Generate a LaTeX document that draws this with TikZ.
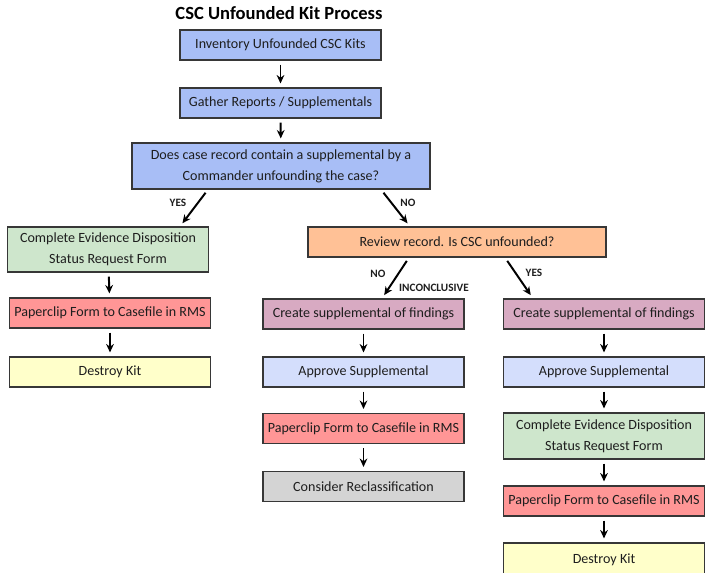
\documentclass[tikz,border=0pt]{standalone}
\usepackage{fontspec}
\setmainfont{Carlito}
\usepackage{tikz}
\usetikzlibrary{calc,arrows.meta}
\definecolor{topblue}{RGB}{168,190,246}
\definecolor{paleblue}{RGB}{212,222,252}
\definecolor{reviewor}{RGB}{255,193,150}
\definecolor{formgreen}{RGB}{206,230,204}
\definecolor{cliprose}{RGB}{255,150,150}
\definecolor{killyellow}{RGB}{255,255,202}
\definecolor{suppmauve}{RGB}{216,170,194}
\definecolor{reclgray}{RGB}{212,212,212}
\definecolor{boxline}{RGB}{55,55,55}
\definecolor{textgray}{RGB}{30,30,30}
\tikzset{
    box/.style={draw=boxline, line width=0.8pt, text=textgray,
            font=\fontsize{10}{15}\selectfont, align=center,
            inner sep=0pt, minimum height=0.75cm},
    narrowbox/.style={box, minimum width=5.025cm},
    widebox/.style={box, minimum width=7.45cm},
    tallbox/.style={minimum height=1.125cm},
    flow/.style={-{Stealth[length=6pt,width=5.5pt]}, line width=1.4pt,
            shorten >=0.1cm, shorten <=0.1cm},
    answer/.style={font=\bfseries\fontsize{8}{9}\selectfont, text=textgray, inner sep=0pt},
}

\begin{document}
\begin{tikzpicture}[x=0.025cm, y=-0.025cm]
        \useasboundingbox (0, 0) rectangle (705, 573);
        \clip (0, 0) rectangle (705, 573);
        %title
        \node[font=\bfseries\fontsize{13.2}{15}\selectfont, text=black] (title) at (279, 13) {CSC Unfounded Kit Process};
        %top boxes
        \node[narrowbox, fill=topblue] (inventory) at (280.5, 45) {Inventory Unfounded CSC Kits};
        \node[narrowbox, fill=topblue] (gather) at (280.5, 103) {Gather Reports / Supplementals};
        \node[widebox, fill=topblue, minimum height=1.15cm] (doescase) at (281, 166) {Does case record contain a supplemental by a\\Commander unfounding the case?};
        %left column
        \node[narrowbox, tallbox, fill=formgreen] (formL) at (108, 249.5) {Complete Evidence Disposition\\Status Request Form};
        \node[narrowbox, fill=cliprose] (clipL) at (110, 313) {Paperclip Form to Casefile in RMS};
        \node[narrowbox, fill=killyellow] (destroyL) at (110, 372) {Destroy Kit};
        %review box
        \node[widebox, fill=reviewor] (review) at (457, 242) {Review record. Is CSC unfounded?};
        %middle column
        \node[narrowbox, fill=suppmauve] (suppM) at (363.5, 314) {Create supplemental of findings};
        \node[narrowbox, fill=paleblue] (approveM) at (363.5, 372) {Approve Supplemental};
        \node[narrowbox, fill=cliprose] (clipM) at (363.5, 428.5) {Paperclip Form to Casefile in RMS};
        \node[narrowbox, fill=reclgray] (reclass) at (363.5, 486.5) {Consider Reclassification};
        %right column
        \node[narrowbox, fill=suppmauve] (suppR) at (604, 314) {Create supplemental of findings};
        \node[narrowbox, fill=paleblue] (approveR) at (604, 372) {Approve Supplemental};
        \node[narrowbox, fill=formgreen, minimum height=1.15cm] (formR) at (604, 436) {Complete Evidence Disposition\\Status Request Form};
        \node[narrowbox, fill=cliprose] (clipR) at (604, 501) {Paperclip Form to Casefile in RMS};
        \node[narrowbox, fill=killyellow, minimum height=1.125cm, text depth=0.35cm] (destroyR) at (604, 565.5) {Destroy Kit};
        %straight arrows
        \draw[flow] (inventory) -- (gather);
        \draw[flow] (gather) -- (doescase);
        \draw[flow] (formL) -- (clipL);
        \draw[flow] (clipL) -- (destroyL);
        \draw[flow] (suppM) -- (approveM);
        \draw[flow] (approveM) -- (clipM);
        \draw[flow] (clipM) -- (reclass);
        \draw[flow] (suppR) -- (approveR);
        \draw[flow] (approveR) -- (formR);
        \draw[flow] (formR) -- (clipR);
        \draw[flow] (clipR) -- (destroyR.north);
        %slanted arrows
        \draw[flow] ($(doescase.south)+(-73, 0)$) -- ($(formL.north)+(72, 0)$);
        \draw[flow] ($(doescase.south)+(100, 0)$) -- ($(review.north)+(-47, 0)$);
        \draw[flow] ($(review.south)+(-48, 0)$) -- ($(suppM.north)+(18.5, 0)$);
        \draw[flow] ($(review.south)+(48, 0)$) -- ($(suppR.north)+(-71, 0)$);
        %answer labels
        \node[answer] (yesA) at (178, 203) {YES};
        \node[answer] (noA) at (408, 203) {NO};
        \node[answer] (noB) at (378, 274) {NO};
        \node[answer] (inconcl) at (434, 288) {INCONCLUSIVE};
        \node[answer] (yesB) at (534, 273) {YES};
    \end{tikzpicture}
\end{document}
